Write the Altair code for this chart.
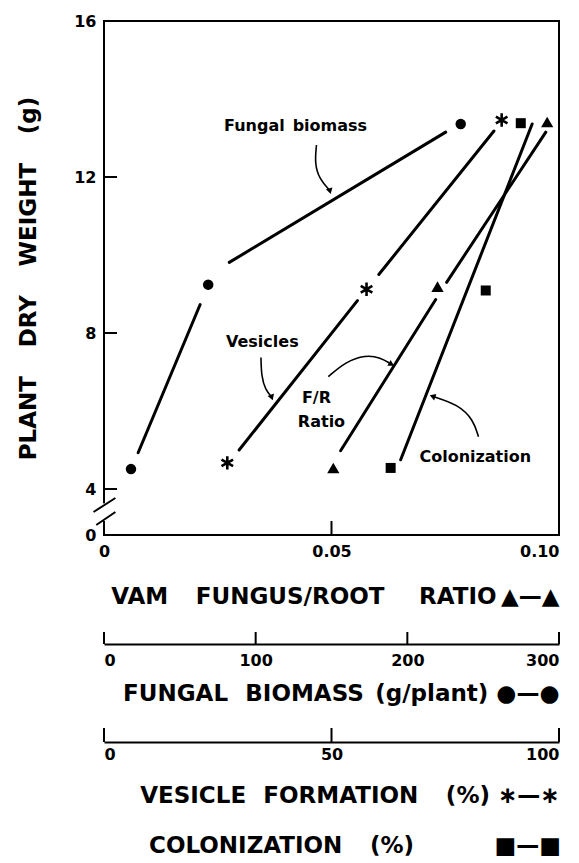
import altair as alt
import pandas as pd

# ---------------- data ----------------
# VAM fungus/root ratio (triangles)
fr_ratio = [0.0504, 0.0733, 0.0974]
fr_weight = [4.54, 9.19, 13.41]
# Fungal biomass g/plant (circles)
biomass = [17.8, 68.7, 235.2]
biomass_weight = [4.51, 9.24, 13.36]
# Vesicle formation % (asterisks)
vesicles = [27.1, 57.7, 87.4]
vesicles_weight = [4.67, 9.12, 13.46]
# Colonization % (squares)
colonization = [63.0, 83.9, 91.6]
colonization_weight = [4.54, 9.09, 13.38]

# drawn line segments (with gaps around markers), segment id per vertex
fr_seg_x = [0.0520, 0.0729, 0.0753, 0.0971]
fr_seg_y = [4.98, 8.86, 9.30, 13.15]
fr_seg_id = [1, 1, 2, 2]
biomass_seg_x = [22.5, 63.4, 82.6, 225.3]
biomass_seg_y = [4.93, 8.73, 9.81, 13.15]
biomass_seg_id = [1, 1, 2, 2]
vesicles_seg_x = [29.7, 55.7, 60.4, 85.7]
vesicles_seg_y = [5.00, 8.83, 9.50, 13.18]
vesicles_seg_id = [1, 1, 2, 2]
colonization_seg_x = [65.2, 94.1]
colonization_seg_y = [4.75, 13.36]
colonization_seg_id = [1, 1]

# axis ticks
weight_ticks = [0, 4, 8, 12, 16]
ratio_ticks = [0, 0.05, 0.10]
biomass_ticks = [0, 100, 200, 300]
vesicle_ticks = [0, 50, 100]

# annotation labels (in ratio / weight units)
label_text = ["Fungal\u2002biomass", "Vesicles", "F/R", "Ratio", "Colonization"]
label_x = [0.0421, 0.0348, 0.0467, 0.0478, 0.0816]
label_y = [13.31, 7.78, 6.34, 5.72, 4.82]

# curved arrows (ratio / weight units)
arrow_id = [1, 1, 1, 1, 2, 2, 2, 2, 3, 3, 3, 3, 3, 4, 4, 4, 4]
arrow_x = [0.0467, 0.0463, 0.0474, 0.0496,
           0.0345, 0.0346, 0.0355, 0.0368,
           0.0493, 0.0531, 0.0575, 0.0608, 0.0630,
           0.0823, 0.0812, 0.0779, 0.0724]
arrow_y = [12.82, 12.33, 11.94, 11.66,
           7.37, 6.88, 6.54, 6.37,
           6.88, 7.26, 7.44, 7.37, 7.21,
           5.34, 5.77, 6.16, 6.37]
head_x = [0.0496, 0.0368, 0.0630, 0.0724]
head_y = [11.66, 6.37, 7.21, 6.37]
head_angle = [165, 160, 120, 290]

# axis break marks
break_x = [-0.0023, -0.0017]
break_x2 = [0.0025, 0.0025]
break_y = [2.0, 0.87]
break_y2 = [3.22, 2.0]
gap_y = [2.75]
gap_y2 = [0.75]

# ---------------- chart ----------------
W, H = 455, 514
FONT = "DejaVu Sans"
TS = 23
ysc = alt.Scale(domain=[0, 4, 16], range=[H, H - 46, 0], nice=False, zero=False)
yaxis = alt.Axis(values=weight_ticks, ticks=False, tickSize=0, domain=False, grid=False,
                 labelFont=FONT, labelFontWeight="bold", labelFontSize=16, labelColor="black",
                 labelPadding=8,
                 title="PLANT\u2003\u2005DRY\u2003\u2005WEIGHT\u2003\u2005(g)", titleFont=FONT,
                 titleFontWeight="bold", titleFontSize=TS, titleColor="black", titlePadding=33)
Y = alt.Y("y:Q", scale=ysc, axis=yaxis)

xaxis = alt.Axis(values=ratio_ticks, ticks=False, tickSize=0, domain=False, grid=False,
                 labelExpr="datum.value == 0 ? '0' : format(datum.value, '.2f')",
                 labelAlign={"condition": {"test": "datum.value >= 0.1", "value": "right"},
                             "value": "center"},
                 labelFont=FONT, labelFontWeight="bold", labelFontSize=16,
                 labelColor="black", labelPadding=8,
                 title="VAM\u2003\u2009FUNGUS/ROOT\u2003\u2002RATIO\u2009\u25b2\u2014\u25b2", titleFont=FONT,
                 titleFontWeight="bold", titleFontSize=TS, titleColor="black",
                 titleAnchor="end", titleAlign="right", titlePadding=26)
XR = alt.X("x:Q", scale=alt.Scale(domain=[0, 0.1], nice=False, zero=False), axis=xaxis)


def xq(domain):
    return alt.X("x:Q", scale=alt.Scale(domain=domain, nice=False, zero=False), axis=None)


def seg_layer(xs, ys, ids, X):
    df = pd.DataFrame({"x": xs, "y": ys, "seg": ids, "o": list(range(len(xs)))})
    return alt.Chart(df).mark_line(color="black", strokeWidth=3, strokeCap="round").encode(
        x=X, y=Y, detail="seg:N", order="o:Q")


def pts(xs, ys, X, **kw):
    df = pd.DataFrame({"x": xs, "y": ys})
    return alt.Chart(df).mark_point(color="black", opacity=1, **kw).encode(x=X, y=Y)


# ratio layer (with inward ticks, axis break, annotations)
yticks = alt.Chart(pd.DataFrame({"y": weight_ticks})).mark_rule(color="black", strokeWidth=2).encode(
    y=Y, x=alt.value(0), x2=alt.value(13))
xticks = alt.Chart(pd.DataFrame({"x": ratio_ticks})).mark_rule(color="black", strokeWidth=2).encode(
    x=XR, y=alt.value(H), y2=alt.value(H - 14))

gap = alt.Chart(pd.DataFrame({"x": [0.0], "y": gap_y, "y2": gap_y2})).mark_rule(
    color="white", strokeWidth=6).encode(x=XR, y=Y, y2="y2:Q")
brk = alt.Chart(pd.DataFrame({"x": break_x, "x2": break_x2, "y": break_y, "y2": break_y2})).mark_rule(
    color="black", strokeWidth=2).encode(x=XR, x2="x2:Q", y=Y, y2="y2:Q")

labels = alt.Chart(pd.DataFrame({"x": label_x, "y": label_y, "t": label_text})).mark_text(
    font=FONT, fontWeight="bold", fontSize=16, color="black").encode(x=XR, y=Y, text="t:N")
arr_df = pd.DataFrame({"x": arrow_x, "y": arrow_y, "a": arrow_id, "o": list(range(len(arrow_x)))})
arrows = alt.Chart(arr_df).mark_line(color="black", strokeWidth=1.6, interpolate="basis").encode(
    x=XR, y=Y, detail="a:N", order="o:Q")
heads = alt.Chart(pd.DataFrame({"x": head_x, "y": head_y, "ang": head_angle})).mark_point(
    shape="triangle", filled=True, color="black", opacity=1, size=45).encode(
    x=XR, y=Y, angle=alt.Angle("ang:Q", scale=None))

fr_layer = alt.layer(
    gap, brk, yticks, xticks, arrows, heads, labels,
    seg_layer(fr_seg_x, fr_seg_y, fr_seg_id, XR),
    pts(fr_ratio, fr_weight, XR, shape="triangle-up", filled=True, size=150),
)

bio_X = xq([0, 300])
bio_layer = alt.layer(
    seg_layer(biomass_seg_x, biomass_seg_y, biomass_seg_id, bio_X),
    pts(biomass, biomass_weight, bio_X, shape="circle", filled=True, size=110),
)
ves_X = xq([0, 100])
ast = "M0,-1L0,1M-0.866,-0.5L0.866,0.5M-0.866,0.5L0.866,-0.5"
ves_layer = alt.layer(
    seg_layer(vesicles_seg_x, vesicles_seg_y, vesicles_seg_id, ves_X),
    pts(vesicles, vesicles_weight, ves_X, shape=ast, filled=False, size=180, strokeWidth=2.6),
)
col_X = xq([0, 100])
col_layer = alt.layer(
    seg_layer(colonization_seg_x, colonization_seg_y, colonization_seg_id, col_X),
    pts(colonization, colonization_weight, col_X, shape="square", filled=True, size=100),
)

main = alt.layer(fr_layer, bio_layer, ves_layer, col_layer).resolve_scale(x="independent").properties(
    width=W, height=H, view=alt.ViewBackground(stroke="black", strokeWidth=2))


def axis_panel(ticks, domain, title, h, label_pad, title_pad):
    df = pd.DataFrame({"x": ticks})
    ax = alt.Axis(values=ticks, ticks=False, tickSize=0, domain=True, domainColor="black",
                  domainWidth=2, grid=False, labelFont=FONT, labelFontWeight="bold",
                  labelFontSize=16, labelColor="black", labelPadding=label_pad,
                  title=title, titleFont=FONT, titleFontWeight="bold", titleFontSize=TS,
                  titleColor="black", titleAnchor="end", titleAlign="right", titlePadding=title_pad)
    return alt.Chart(df).mark_rule(color="black", strokeWidth=2).encode(
        x=alt.X("x:Q", scale=alt.Scale(domain=domain, nice=False, zero=False), axis=ax),
        y=alt.value(0), y2=alt.value(h)).properties(width=W, height=h,
                                                    view=alt.ViewBackground(stroke=None))


bio_panel = axis_panel(biomass_ticks, [0, 300],
                       "FUNGAL\u2002\u2005BIOMASS\u2002(g/plant) \u25cf\u2014\u25cf", 12, 8, 14)
ves_panel = axis_panel(vesicle_ticks, [0, 100],
                       "VESICLE\u2002\u2005FORMATION\u2003\u2009(%) \u2217\u2014\u2217", 14, 4, 22)

chart = alt.vconcat(main, bio_panel, ves_panel, spacing=22).properties(
    title=alt.TitleParams(
        text="COLONIZATION\u2003\u2009(%)\u2003\u2003\u2003\u2002\u25a0\u2014\u25a0",
        orient="bottom", anchor="end", font=FONT, fontWeight="bold",
        fontSize=TS, color="black", offset=28),
    padding={"left": 8, "top": 4, "right": 5, "bottom": 5},
).configure_view(stroke=None)

chart.save("out.html", embed_options={"renderer": "svg", "actions": False})
